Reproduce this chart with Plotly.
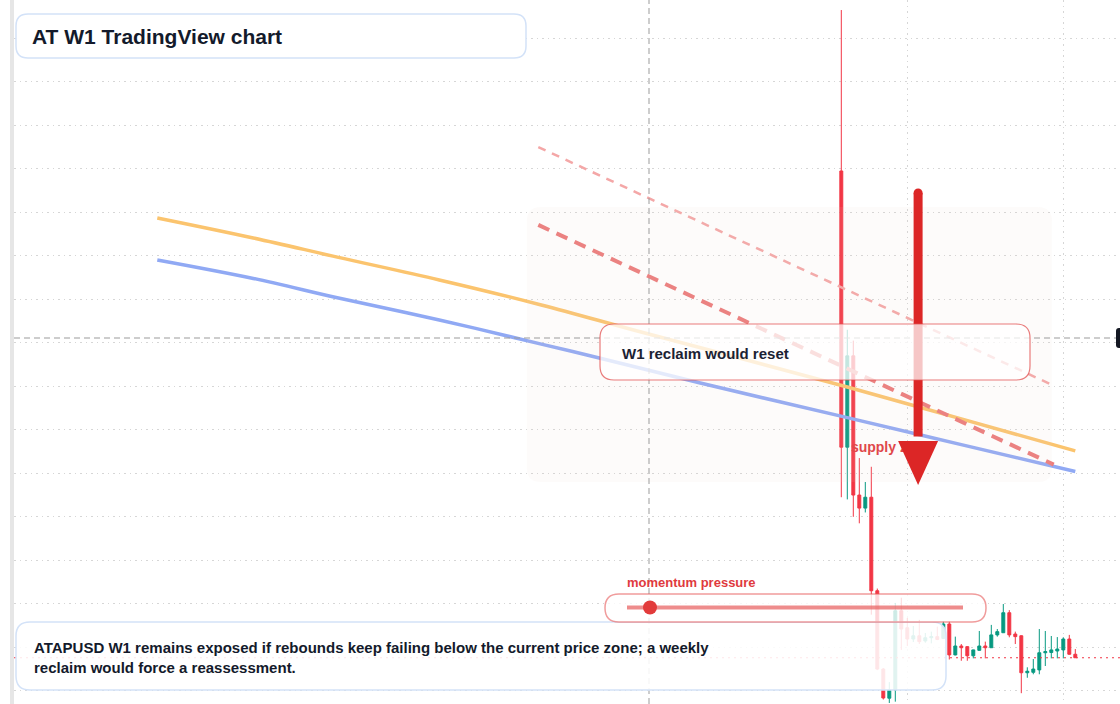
import plotly.graph_objects as go

W, H = 1120, 704
LM = 14  # left margin (px)

# ---------------- data ----------------
week = list(range(40))
open_ = [0.279, 0.152, 0.194, 0.130, 0.124, 0.129, 0.086, 0.0500, 0.0366, 0.0404,
         0.0768, 0.0690, 0.0638, 0.0653, 0.0629, 0.0644, 0.0649, 0.0641, 0.0707, 0.0565,
         0.0606, 0.0603, 0.0561, 0.0586, 0.0606, 0.0598, 0.0657, 0.0667, 0.0759, 0.0661,
         0.0653, 0.0483, 0.0485, 0.0496, 0.0575, 0.0576, 0.0583, 0.0588, 0.0638, 0.0568]
high = [0.353, 0.206, 0.201, 0.147, 0.136, 0.143, 0.087, 0.0505, 0.0440, 0.0804,
        0.0828, 0.0735, 0.0698, 0.0726, 0.0666, 0.0672, 0.0695, 0.0721, 0.0721, 0.0649,
        0.0615, 0.0605, 0.0589, 0.0675, 0.0626, 0.0703, 0.0684, 0.0799, 0.0771, 0.0672,
        0.0655, 0.0508, 0.0546, 0.0684, 0.0675, 0.0652, 0.0647, 0.0646, 0.0657, 0.0592]
low = [0.129, 0.128, 0.120, 0.117, 0.122, 0.075, 0.0495, 0.0360, 0.0344, 0.0350,
       0.0588, 0.0606, 0.0624, 0.0615, 0.0621, 0.0618, 0.0633, 0.0638, 0.0544, 0.0563,
       0.0538, 0.0538, 0.0549, 0.0585, 0.0549, 0.0597, 0.0649, 0.0666, 0.0646, 0.0615,
       0.0389, 0.0460, 0.0476, 0.0476, 0.0514, 0.0549, 0.0549, 0.0549, 0.0566, 0.0551]
close = [0.152, 0.194, 0.130, 0.124, 0.129, 0.086, 0.050, 0.0367, 0.0404, 0.0768,
         0.0684, 0.0638, 0.0653, 0.0626, 0.0644, 0.0649, 0.0636, 0.0707, 0.0565, 0.0606,
         0.0598, 0.0561, 0.0588, 0.0606, 0.0598, 0.0657, 0.0672, 0.0759, 0.0657, 0.0649,
         0.0483, 0.0490, 0.0500, 0.0575, 0.0580, 0.0588, 0.0592, 0.0638, 0.0568, 0.0552]

# moving-average style lines (week offset, price)
ema_fast_x = [-114, -98, -84, -67, -50, -34, -17, 1, 20, 39]
ema_fast_y = [0.2574, 0.2482, 0.2394, 0.2289, 0.2174, 0.2054, 0.1930, 0.1797, 0.1650, 0.1503]
ema_slow_x = [-114, -98, -84, -67, -50, -40, -23.5, 1, 20, 39]
ema_slow_y = [0.2381, 0.2296, 0.2207, 0.2105, 0.1994, 0.1928, 0.1815, 0.1656, 0.1532, 0.1408]

# descending trendlines
trend_main_x = [-50.5, 35.4]
trend_main_y = [0.2542, 0.1440]
trend_upper_x = [-50.5, 35.4]
trend_upper_y = [0.2900, 0.1803]

# supply zone
zone_x = [-52.4, 35.1]
zone_y = [0.1360, 0.2624]

# arrow
arrow_x = 12.8
arrow_from = 0.2689
arrow_base = 0.1549
arrow_to = 0.1346

# crosshair
cross_x = -32.05
cross_y = 0.2022

last_price = close[-1]

grid_x = [11, 37]
grid_y = [round(0.04 + 0.02 * i, 2) for i in range(16)]

X_RANGE = [-137.883, 46.45]
Y_RANGE = [0.033931, 0.357609]

# ---------------- helpers ----------------
def px_x(px):
    return (px - LM) / (W - LM)

def px_y(py):
    return 1 - py / H

def rrect_path(x0, y0, x1, y1, r):
    """rounded rect in pixel coords -> paper path"""
    pts = [
        ("M", [(x0 + r, y0)]), ("L", [(x1 - r, y0)]), ("Q", [(x1, y0), (x1, y0 + r)]),
        ("L", [(x1, y1 - r)]), ("Q", [(x1, y1), (x1 - r, y1)]), ("L", [(x0 + r, y1)]),
        ("Q", [(x0, y1), (x0, y1 - r)]), ("L", [(x0, y0 + r)]), ("Q", [(x0, y0), (x0 + r, y0)]),
    ]
    s = ""
    for cmd, ps in pts:
        s += cmd + " " + " ".join(f"{px_x(a):.5f},{px_y(b):.5f}" for a, b in ps) + " "
    return s + "Z"

def rrect_data(x0, x1, y0, y1, rx, ry):
    return (f"M {x0+rx},{y1} L {x1-rx},{y1} Q {x1},{y1} {x1},{y1-ry} "
            f"L {x1},{y0+ry} Q {x1},{y0} {x1-rx},{y0} L {x0+rx},{y0} "
            f"Q {x0},{y0} {x0},{y0+ry} L {x0},{y1-ry} Q {x0},{y1} {x0+rx},{y1} Z")

FONT = "Liberation Sans, Arial, Helvetica, sans-serif"
RED = "#f23645"
GREEN = "#089981"

fig = go.Figure()

fig.add_trace(go.Scatter(x=ema_fast_x, y=ema_fast_y, mode="lines", line=dict(color="#fbc46e", width=3.5, shape="spline"),
                         hoverinfo="skip"))
fig.add_trace(go.Scatter(x=ema_slow_x, y=ema_slow_y, mode="lines", line=dict(color="#90a9f4", width=3.5, shape="spline"),
                         hoverinfo="skip"))
fig.add_trace(go.Scatter(x=trend_upper_x, y=trend_upper_y, mode="lines",
                         line=dict(color="#f4a7a7", width=2.5, dash="8px,7px"), hoverinfo="skip"))
fig.add_trace(go.Scatter(x=trend_main_x, y=trend_main_y, mode="lines",
                         line=dict(color="#ec7b7b", width=4, dash="12px,8px"), hoverinfo="skip"))

fig.add_trace(go.Candlestick(
    x=week, open=open_, high=high, low=low, close=close,
    increasing=dict(line=dict(color=GREEN, width=1), fillcolor=GREEN),
    decreasing=dict(line=dict(color=RED, width=1), fillcolor=RED),
    hoverinfo="skip",
))

fig.add_trace(go.Scatter(x=[1.6], y=[0.1516], mode="text", text=["supply zone"], textposition="middle right",
                         textfont=dict(family=FONT, size=14, color="#e03a3e", weight="bold"), hoverinfo="skip"))

shapes = []
# supply zone (faint overlay)
rx = 14 / 6.0
ry = 14 * 0.02 / 43.5
shapes.append(dict(type="path", xref="x", yref="y", layer="above",
                   path=rrect_data(zone_x[0], zone_x[1], zone_y[0], zone_y[1], rx, ry),
                   fillcolor="rgba(235,215,195,0.09)", line=dict(width=0)))
# last price dotted line
shapes.append(dict(type="line", xref="paper", yref="y", x0=0, x1=1, y0=last_price, y1=last_price, layer="above",
                   line=dict(color=RED, width=1.2, dash="2px,4px")))
# crosshair
shapes.append(dict(type="line", xref="x", yref="paper", x0=cross_x, x1=cross_x, y0=0, y1=1, layer="above",
                   line=dict(color="#9b9b9b", width=1, dash="6px,4px")))
shapes.append(dict(type="line", xref="paper", yref="y", x0=0, x1=1, y0=cross_y, y1=cross_y, layer="above",
                   line=dict(color="#9b9b9b", width=1, dash="6px,4px")))
# arrow
shapes.append(dict(type="line", xref="x", yref="y", x0=arrow_x, x1=arrow_x, y0=arrow_from, y1=arrow_base + 0.002,
                   layer="above", line=dict(color="#dc2626", width=9)))
shapes.append(dict(type="circle", xref="x", yref="y", xsizemode="pixel", ysizemode="pixel",
                   xanchor=arrow_x, yanchor=arrow_from, x0=-4.5, x1=4.5, y0=-4.5, y1=4.5,
                   layer="above", fillcolor="#dc2626", line=dict(width=0)))
hw = 20 / 6.0
shapes.append(dict(type="path", xref="x", yref="y", layer="above",
                   path=f"M {arrow_x-hw},{arrow_base} L {arrow_x+hw},{arrow_base} L {arrow_x},{arrow_to} Z",
                   fillcolor="#dc2626", line=dict(width=0)))
# W1 box
shapes.append(dict(type="path", xref="paper", yref="paper", layer="above", path=rrect_path(600, 324, 1030, 380, 14),
                   fillcolor="rgba(255,255,255,0.74)", line=dict(color="rgba(226,80,80,0.75)", width=1.2)))
# bottom box
shapes.append(dict(type="path", xref="paper", yref="paper", layer="above", path=rrect_path(16, 622, 946, 690, 14),
                   fillcolor="rgba(255,255,255,0.88)", line=dict(color="#d3e2f8", width=1.5)))
# momentum pill
shapes.append(dict(type="path", xref="paper", yref="paper", layer="above", path=rrect_path(605, 594, 986, 622, 14),
                   fillcolor="rgba(255,255,255,0.8)", line=dict(color="rgba(230,90,90,0.6)", width=1.5)))
shapes.append(dict(type="line", xref="paper", yref="paper", x0=px_x(627), x1=px_x(963), y0=px_y(607.5), y1=px_y(607.5),
                   layer="above", line=dict(color="rgba(232,96,96,0.72)", width=4)))
shapes.append(dict(type="circle", xref="paper", yref="paper", x0=px_x(643), x1=px_x(657), y0=px_y(600.5), y1=px_y(614.5),
                   layer="above", fillcolor="#e23b3b", line=dict(width=0)))
# title box
shapes.append(dict(type="path", xref="paper", yref="paper", layer="above", path=rrect_path(16, 14, 526, 58, 12),
                   fillcolor="#ffffff", line=dict(color="#d3e2f8", width=1.5)))
# right price label (cut off)
shapes.append(dict(type="path", xref="paper", yref="paper", layer="above",
                   path=rrect_path(1116, 328, 1130, 348, 3), fillcolor="#131722", line=dict(width=0)))
# left strip
shapes.append(dict(type="rect", xref="paper", yref="paper", x0=px_x(10), x1=px_x(14), y0=0, y1=1, layer="above",
                   fillcolor="#e6e6e6", line=dict(width=0)))

annotations = [
    dict(xref="paper", yref="paper", x=px_x(30), y=px_y(36), xanchor="left", yanchor="middle", showarrow=False,
         text="<b>AT W1 TradingView chart</b>", font=dict(family=FONT, size=21, color="#131a2b")),
    dict(xref="paper", yref="paper", x=px_x(620), y=px_y(353), xanchor="left", yanchor="middle", showarrow=False,
         text="<b>W1 reclaim would reset</b>", font=dict(family=FONT, size=15, color="#1b2233")),
    dict(xref="paper", yref="paper", x=px_x(625), y=px_y(582), xanchor="left", yanchor="middle", showarrow=False,
         text="<b>momentum pressure</b>", font=dict(family=FONT, size=13, color="#e03a3e")),
    dict(xref="paper", yref="paper", x=px_x(32), y=px_y(657), xanchor="left", yanchor="middle", showarrow=False,
         align="left",
         text="<b>ATAPUSD W1 remains exposed if rebounds keep failing below the current price zone; a weekly<br>"
              "reclaim would force a reassessment.</b>",
         font=dict(family=FONT, size=15, color="#131a2b")),
]

fig.update_layout(
    width=W, height=H, margin=dict(l=LM, r=0, t=0, b=0),
    paper_bgcolor="white", plot_bgcolor="white", showlegend=False,
    hovermode=False,
    shapes=shapes, annotations=annotations,
    xaxis=dict(range=X_RANGE, tickvals=grid_x, showticklabels=False, showgrid=True, gridcolor="#d6d6d6",
               griddash="1.5px,4px", gridwidth=1, zeroline=False, showline=False, rangeslider=dict(visible=False),
               ticks=""),
    yaxis=dict(range=Y_RANGE, tickvals=grid_y, showticklabels=False, showgrid=True, gridcolor="#d6d6d6",
               griddash="1.5px,4px", gridwidth=1, zeroline=False, showline=False, ticks=""),
)

fig.write_html("out.html")
